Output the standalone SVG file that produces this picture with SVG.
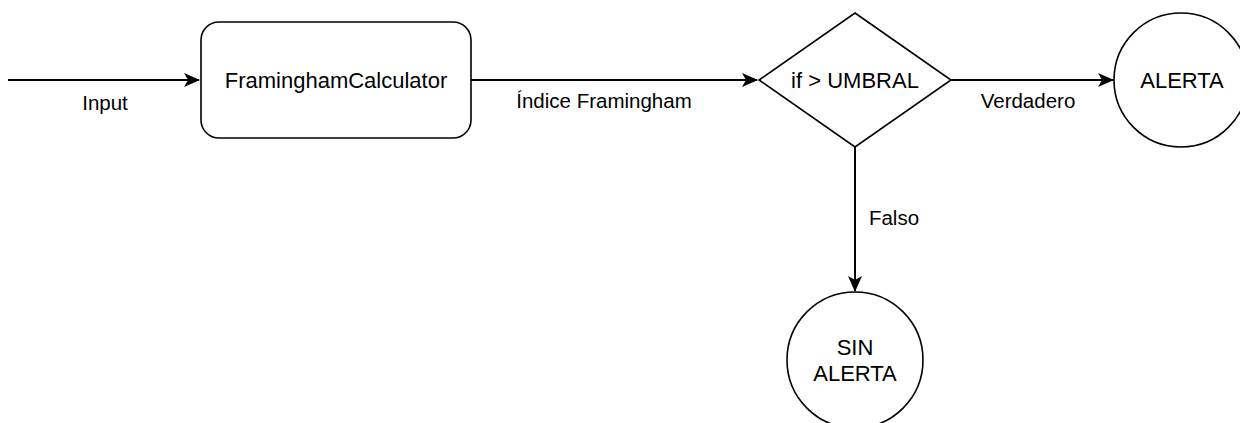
<svg xmlns="http://www.w3.org/2000/svg" width="1240" height="423" viewBox="0 0 1240 423">
<style>
.shape{fill:#ffffff;stroke:#000000;stroke-width:1.6}
.edge{fill:none;stroke:#000000;stroke-width:2}
.ntext{font-family:"Liberation Sans",Arial,sans-serif;font-size:22px;fill:#000000;text-anchor:middle}
.ltext{font-family:"Liberation Sans",Arial,sans-serif;font-size:20.5px;fill:#000000;text-anchor:middle}
</style>
<defs>
<marker id="arrow" viewBox="0 0 16 14" markerWidth="16" markerHeight="14" refX="15" refY="7" orient="auto" markerUnits="userSpaceOnUse">
<path d="M0,0 L16,7 L0,14 L4,7 Z" fill="#000000"/>
</marker>
</defs>
<rect width="1240" height="423" fill="#ffffff"/>
<g id="connectors">
<g id="edge-input">
<line class="edge" x1="8" y1="80" x2="199" y2="80" marker-end="url(#arrow)"/>
<text class="ltext" x="105" y="110">Input</text>
</g>
<g id="edge-indice">
<line class="edge" x1="471" y1="80" x2="757" y2="80" marker-end="url(#arrow)"/>
<text class="ltext" x="604" y="108">Índice Framingham</text>
</g>
<g id="edge-verdadero">
<line class="edge" x1="951" y1="80" x2="1113" y2="80" marker-end="url(#arrow)"/>
<text class="ltext" x="1028" y="108">Verdadero</text>
</g>
<g id="edge-falso">
<line class="edge" x1="855" y1="147" x2="855" y2="291" marker-end="url(#arrow)"/>
<text class="ltext" x="894" y="225">Falso</text>
</g>
</g>
<g id="node-calculator">
<rect class="shape" x="201" y="22" width="270" height="116" rx="18" ry="18"/>
<text class="ntext" x="336" y="88">FraminghamCalculator</text>
</g>
<g id="node-umbral">
<polygon class="shape" points="855,13 951,80 855,147 759,80"/>
<text class="ntext" x="855" y="88">if &gt; UMBRAL</text>
</g>
<g id="node-alerta">
<circle class="shape" cx="1181" cy="80" r="67"/>
<text class="ntext" x="1182" y="88">ALERTA</text>
</g>
<g id="node-sin-alerta">
<circle class="shape" cx="855" cy="360" r="68"/>
<text class="ntext" x="855" y="355">SIN</text>
<text class="ntext" x="855" y="381">ALERTA</text>
</g>
</svg>
